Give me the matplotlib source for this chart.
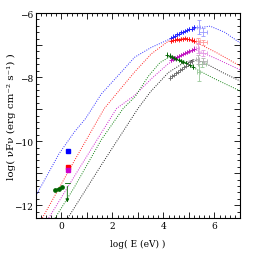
import numpy as np
import matplotlib
matplotlib.use("Agg")
import matplotlib.pyplot as plt
from matplotlib.ticker import MultipleLocator, FuncFormatter

plt.rcParams['font.family'] = ['DejaVu Serif']

# model curves: log E (eV), log nuFnu
blue_x = [-1.0, -0.1, 0.5, 0.94, 1.2, 1.56, 2.35, 2.87, 3.53, 4.12, 4.6, 5.2, 5.83, 6.4, 7.0]
blue_y = [-11.7, -10.4, -9.72, -9.3, -8.98, -8.53, -7.84, -7.38, -7.07, -6.86, -6.68, -6.48, -6.41, -6.6, -6.93]
red_x = [-0.75, 0.5, 1.68, 2.22, 2.87, 3.53, 4.19, 4.8, 5.3, 6.09, 7.0]
red_y = [-12.4, -10.62, -8.98, -8.46, -7.84, -7.27, -6.88, -6.8, -6.92, -7.24, -7.65]
mag_x = [-0.5, 0.8, 2.16, 2.87, 3.53, 4.19, 4.8, 5.3, 6.0, 7.0]
mag_y = [-12.4, -10.72, -8.98, -8.57, -8.05, -7.58, -7.3, -7.16, -7.4, -7.77]
grn_x = [-0.25, 0.49, 1.56, 2.42, 2.9, 3.4, 3.86, 4.3, 4.8, 5.3, 6.0, 7.0]
grn_y = [-12.4, -11.46, -9.96, -8.98, -8.6, -7.98, -7.55, -7.34, -7.5, -7.76, -8.05, -8.43]
blk_x = [0.25, 1.6, 3.0, 3.5, 4.19, 4.8, 5.2, 5.6, 6.3, 7.0]
blk_y = [-12.4, -10.7, -8.98, -8.45, -7.86, -7.55, -7.46, -7.55, -7.85, -8.12]

# X-ray spectra
xb = [4.3, 4.38, 4.46, 4.54, 4.62, 4.7, 4.78, 4.86, 4.94, 5.02, 5.1, 5.18]
yb = [-6.79, -6.74, -6.72, -6.67, -6.65, -6.6, -6.59, -6.55, -6.54, -6.5, -6.49, -6.45]
xr = [4.3, 4.38, 4.46, 4.54, 4.62, 4.7, 4.78, 4.86, 4.94, 5.02, 5.1, 5.18]
yr = [-6.87, -6.85, -6.84, -6.82, -6.83, -6.8, -6.81, -6.79, -6.8, -6.82, -6.83, -6.86]
xm = [4.3, 4.38, 4.46, 4.54, 4.62, 4.7, 4.78, 4.86, 4.94, 5.02, 5.1, 5.18]
ym = [-7.46, -7.42, -7.4, -7.36, -7.33, -7.3, -7.27, -7.24, -7.22, -7.18, -7.15, -7.12]
xg = [4.15, 4.24, 4.33, 4.42, 4.51, 4.6, 4.69, 4.78, 4.87, 4.96, 5.05, 5.14]
yg = [-7.3, -7.33, -7.37, -7.4, -7.42, -7.46, -7.5, -7.52, -7.56, -7.6, -7.63, -7.68]
xk = [4.25, 4.33, 4.41, 4.49, 4.57, 4.65, 4.73, 4.81, 4.89, 4.97, 5.05, 5.13]
yk = [-8.02, -7.97, -7.92, -7.88, -7.83, -7.78, -7.74, -7.68, -7.64, -7.6, -7.54, -7.5]
pt_xerr = 0.04
pt_yerr = [0.08, 0.07, 0.06, 0.06, 0.05, 0.05, 0.05, 0.05, 0.06, 0.06, 0.07, 0.08]

# faint high-energy points: x, y, xerr, yerr
hb = ([5.38, 5.55], [-6.45, -6.6], [0.05, 0.17], [0.22, 0.12])
hr = ([5.35, 5.55], [-6.88, -6.92], [0.08, 0.15], [0.1, 0.08])
hm = ([5.35, 5.55], [-7.1, -7.25], [0.06, 0.15], [0.15, 0.1])
hg = ([5.38, 5.5], [-7.85, -7.6], [0.06, 0.15], [0.26, 0.1])
hk = ([5.35, 5.55], [-7.45, -7.5], [0.06, 0.15], [0.15, 0.1])

# optical / UV points
opt_x = [0.25, 0.25, 0.25]
opt_y = [-10.32, -10.8, -10.9]
opt_err = [0.03, 0.07, 0.04]
opt_c = ['#0000ff', '#ff0000', '#cc00cc']
gopt_x = [-0.24, -0.1, 0.03]
gopt_y = [-11.52, -11.48, -11.43]
ul_x, ul_y = 0.23, -11.32

fig = plt.figure(figsize=(2.55, 2.55), dpi=100)
ax = fig.add_axes([0.141, 0.141, 0.8, 0.804])

dots = (0, (1, 1.4))
for cx, cy, c in [(blue_x, blue_y, '#3030ff'), (red_x, red_y, '#ff2020'),
                  (mag_x, mag_y, '#cc20cc'), (grn_x, grn_y, '#108010'),
                  (blk_x, blk_y, '#202020')]:
    ax.plot(cx, cy, ls=dots, lw=0.7, color=c)

for px, py, c in [(xb, yb, '#2020ff'), (xr, yr, '#ff1010'), (xm, ym, '#c010c0'),
                  (xg, yg, '#006400'), (xk, yk, '#707070')]:
    ax.errorbar(px, py, xerr=pt_xerr, yerr=pt_yerr, fmt='+', ms=3, mew=0.6,
                lw=0.6, color=c, capsize=0)

for (px, py, pxe, pye), c in [(hb, '#9999ff'), (hr, '#ff9999'), (hm, '#e399e3'),
                              (hg, '#99c899'), (hk, '#b0b0b0')]:
    ax.errorbar(px, py, xerr=pxe, yerr=pye, fmt='none', lw=0.6, color=c,
                capsize=1.2, capthick=0.6)

for x, y, e, c in zip(opt_x, opt_y, opt_err, opt_c):
    ax.errorbar([x], [y], yerr=[e], fmt='s', ms=2.6, color=c, lw=0.6, capsize=0)

ax.plot(gopt_x, gopt_y, '-o', ms=2.4, lw=1.0, color='#006400')
ax.plot([ul_x - 0.1, ul_x + 0.1], [ul_y, ul_y], lw=0.6, color='#006400')
ax.annotate('', xy=(ul_x, -12.0), xytext=(ul_x, ul_y),
            arrowprops=dict(arrowstyle='-|>', color='#006400', lw=0.6,
                            mutation_scale=5))

ax.set_xlim(-1, 7)
ax.set_ylim(-12.4, -6)
ax.xaxis.set_major_locator(MultipleLocator(1))
ax.yaxis.set_major_locator(MultipleLocator(1))
ax.xaxis.set_minor_locator(MultipleLocator(0.2))
ax.yaxis.set_minor_locator(MultipleLocator(0.2))
even = FuncFormatter(lambda v, p: ('%d' % v).replace('-', '\u2212') if int(round(v)) % 2 == 0 else '')
ax.xaxis.set_major_formatter(even)
ax.yaxis.set_major_formatter(even)
ax.tick_params(which='both', direction='in', top=True, right=True, labelsize=6.5,
               width=0.6, pad=2)
ax.tick_params(which='major', length=4)
ax.tick_params(which='minor', length=2)
for s in ax.spines.values():
    s.set_linewidth(0.8)

ax.set_xlabel('log( E (eV) )', fontsize=6.5)
ax.set_ylabel('log( \u03bdF\u03bd (erg cm\u207b\u00b2 s\u207b\u00b9) )', fontsize=7.5)
ax.xaxis.set_label_coords(0.5, -0.1)
ax.yaxis.set_label_coords(-0.1, 0.5)

fig.savefig('out.png', dpi=100)
